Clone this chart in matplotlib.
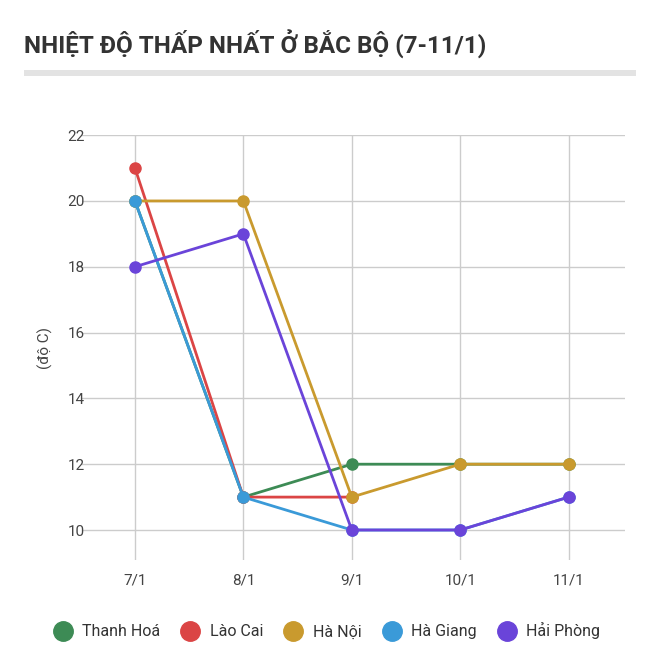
import matplotlib
matplotlib.use("Agg")
import matplotlib.pyplot as plt
import numpy as np
from matplotlib.patches import Rectangle
from matplotlib.lines import Line2D

plt.rcParams['font.family'] = ['Roboto', 'DejaVu Sans']

dates = ["7/1", "8/1", "9/1", "10/1", "11/1"]
thanh_hoa = [20, 11, 12, 12, 12]
lao_cai = [21, 11, 11, np.nan, np.nan]
ha_noi = [20, 20, 11, 12, 12]
ha_giang = [20, 11, 10, 10, 11]
hai_phong = [18, 19, 10, 10, 11]

series = [("Thanh Hoá", thanh_hoa, "#3d8b55", 2),
          ("Lào Cai", lao_cai, "#db4545", 3),
          ("Hà Nội", ha_noi, "#c99a2e", 4),
          ("Hà Giang", ha_giang, "#3a9ad8", 5),
          ("Hải Phòng", hai_phong, "#6a44d9", 6)]

fig = plt.figure(figsize=(6.6, 6.69), dpi=100)
fig.text(0.036, 0.933, "NHIỆT ĐỘ THẤP NHẤT Ở BẮC BỘ (7-11/1)", fontsize=17.5,
         fontweight='bold', color='#333333', va='center')
fig.add_artist(Rectangle((0.036, 0.887), 0.927, 0.009, transform=fig.transFigure,
                         color='#e3e3e3', lw=0))

ax = fig.add_axes([0.124, 0.163, 0.823, 0.635])
x = np.arange(len(dates))
for name, vals, c, z in series:
    ax.plot(x, vals, color=c, lw=2, marker='o', ms=8, zorder=z, label=name)

ax.set_xlim(-0.49, 4.52)
ax.set_ylim(9.09, 22)
ax.set_xticks(x)
ax.set_xticklabels(dates)
ax.set_yticks([10, 12, 14, 16, 18, 20, 22])
ax.grid(True, color='#cccccc', lw=1)
ax.set_axisbelow(True)
for s in ax.spines.values():
    s.set_visible(False)
ax.tick_params(length=0, labelsize=11, colors='#444444', pad=10)
ax.tick_params(axis='y', pad=-2)
for lbl in ax.get_yticklabels():
    lbl.set_horizontalalignment('right')
ax.set_ylabel("(độ C)", fontsize=11, color='#444444', labelpad=10)

handles = [Line2D([], [], marker='o', ls='', ms=14, color=c) for _, _, c, _ in series]
fig.legend(handles, [s[0] for s in series], loc='center', bbox_to_anchor=(0.49, 0.057),
           ncol=5, frameon=False, fontsize=11.5, handletextpad=0.2, columnspacing=0.9,
           labelcolor='#333333')

fig.savefig("out.png", dpi=100)
